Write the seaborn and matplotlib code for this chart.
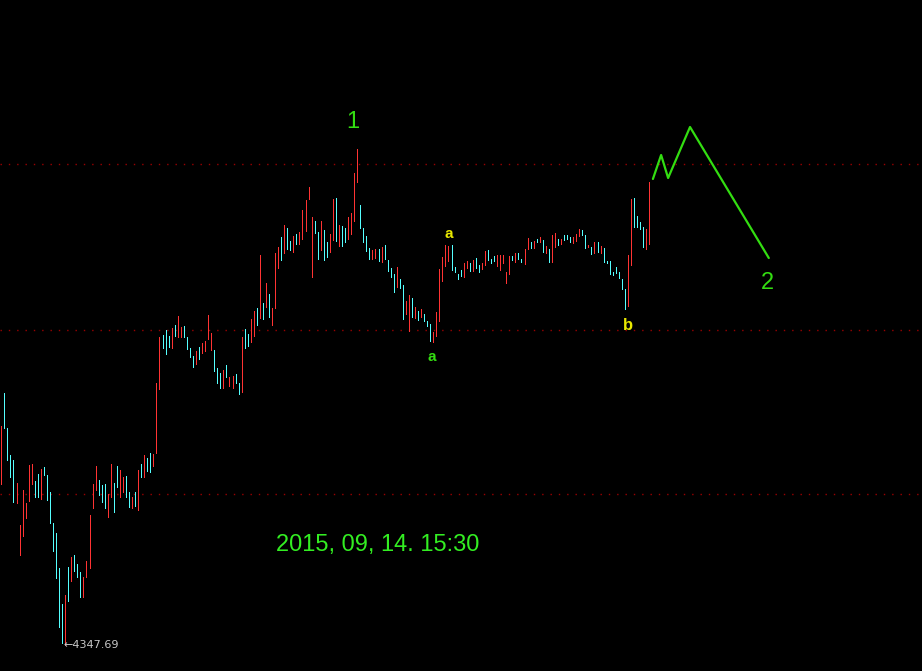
import matplotlib

matplotlib.use("Agg")
import matplotlib.pyplot as plt
import numpy as np
import pandas as pd
import seaborn as sns

# Candle open / close values (one entry per bar)
opens = [
    4831, 5104, 4999, 4918, 4903, 4774, 4618, 4675, 4729, 4780,
    4831, 4840, 4861, 4786, 4882, 4858, 4807, 4714, 4684, 4579,
    4471, 4347.69, 4582, 4540, 4618, 4591, 4567, 4492, 4552, 4579,
    4759, 4813, 4843, 4828, 4831, 4732, 4792, 4834, 4885, 4792,
    4807, 4855, 4807, 4759, 4807, 4753, 4891, 4852, 4909, 4924,
    4885, 4924, 5116, 5278, 5293, 5275, 5239, 5308, 5272, 5272,
    5305, 5272, 5239, 5215, 5191, 5242, 5224, 5230, 5266, 5233,
    5233, 5179, 5164, 5119, 5188, 5125, 5119, 5161, 5134, 5107,
    5296, 5281, 5257, 5275, 5359, 5329, 5374, 5362, 5401, 5308,
    5359, 5479, 5572, 5524, 5599, 5560, 5527, 5581, 5551, 5566,
    5590, 5686, 5452, 5620, 5587, 5533, 5593, 5557, 5527, 5563,
    5689, 5545, 5605, 5599, 5566, 5581, 5620, 5737, 5668, 5599,
    5575, 5539, 5506, 5509, 5536, 5497, 5548, 5503, 5479, 5461,
    5422, 5446, 5428, 5341, 5290, 5389, 5329, 5350, 5332, 5341,
    5320, 5311, 5257, 5275, 5320, 5440, 5485, 5500, 5548, 5482,
    5461, 5473, 5452, 5479, 5494, 5470, 5509, 5488, 5476, 5488,
    5533, 5506, 5515, 5485, 5473, 5494, 5434, 5461, 5515, 5497,
    5524, 5506, 5491, 5536, 5557, 5539, 5566, 5557, 5563, 5524,
    5536, 5497, 5542, 5566, 5551, 5578, 5578, 5572, 5554, 5560,
    5575, 5593, 5578, 5542, 5542, 5524, 5557, 5524, 5539, 5500,
    5500, 5467, 5482, 5467, 5446, 5416, 5365, 5488, 5689, 5635,
    5617, 5602, 5536, 5551,
]
closes = [
    5005, 4999, 4903, 4852, 4777, 4834, 4708, 4813, 4774, 4888,
    4891, 4792, 4792, 4876, 4858, 4783, 4714, 4630, 4549, 4402,
    4354, 4498, 4480, 4612, 4570, 4552, 4492, 4552, 4600, 4738,
    4831, 4885, 4798, 4777, 4759, 4801, 4891, 4747, 4822, 4873,
    4852, 4792, 4762, 4792, 4765, 4873, 4852, 4918, 4870, 4867,
    4921, 5134, 5272, 5239, 5221, 5242, 5299, 5275, 5335, 5302,
    5272, 5236, 5212, 5182, 5230, 5206, 5254, 5260, 5338, 5284,
    5170, 5134, 5119, 5173, 5152, 5152, 5155, 5134, 5101, 5272,
    5239, 5245, 5326, 5350, 5308, 5518, 5326, 5434, 5332, 5359,
    5524, 5542, 5503, 5608, 5536, 5533, 5575, 5551, 5587, 5653,
    5683, 5722, 5632, 5584, 5506, 5620, 5503, 5512, 5581, 5686,
    5560, 5608, 5545, 5557, 5632, 5644, 5764, 5836, 5599, 5557,
    5530, 5506, 5533, 5536, 5500, 5542, 5506, 5470, 5452, 5407,
    5482, 5419, 5326, 5380, 5398, 5332, 5362, 5323, 5356, 5320,
    5305, 5260, 5287, 5347, 5476, 5512, 5548, 5545, 5473, 5467,
    5446, 5455, 5494, 5500, 5470, 5503, 5479, 5467, 5494, 5530,
    5503, 5494, 5500, 5518, 5518, 5518, 5467, 5515, 5503, 5524,
    5506, 5497, 5536, 5569, 5539, 5560, 5557, 5572, 5527, 5545,
    5497, 5578, 5584, 5548, 5566, 5563, 5566, 5557, 5572, 5581,
    5596, 5578, 5539, 5548, 5521, 5557, 5527, 5545, 5497, 5494,
    5461, 5458, 5464, 5449, 5416, 5356, 5518, 5686, 5602, 5602,
    5596, 5542, 5596, 5737,
]

# Hand-drawn wave projection (bar position, price)
wave_bar = [214.2, 216.9, 219.2, 226.4, 252.3]
wave_price = [5746, 5818, 5749, 5902, 5509]

grid_levels = [4801, 5293, 5791]

# Wave labels: (text, bar position, price, colour, size, weight)
labels = [
    ("1", 115.6, 5917, "#33dd11", 17, "normal"),
    ("a", 141.6, 5212, "#33dd11", 11, "bold"),
    ("a", 147.2, 5581, "#e8e800", 11, "bold"),
    ("b", 206.0, 5308, "#e8e800", 12, "bold"),
    ("2", 252.0, 5434, "#33dd11", 17, "normal"),
]
stamp_text = "2015, 09, 14. 15:30"
stamp_pos = (123.8, 4648)

UP_COLOR = "#ff3333"
DOWN_COLOR = "#55ffff"

sns.set_style("dark", {"axes.facecolor": "black", "figure.facecolor": "black"})
plt.rcParams["font.family"] = ["Liberation Sans", "DejaVu Sans"]

df = pd.DataFrame({"open": opens, "close": closes})
df["bar"] = np.arange(len(df))
df["lo"] = df[["open", "close"]].min(axis=1)
df["hi"] = df[["open", "close"]].max(axis=1)
df["up"] = df["close"] >= df["open"]

fig = plt.figure(figsize=(9.22, 6.71), dpi=100)
fig.patch.set_facecolor("black")
ax = fig.add_axes([0, 0, 1, 1])
ax.set_facecolor("black")

# dotted price levels
for lvl in grid_levels:
    ax.axhline(lvl, color="#9a0000", linestyle=(0, (1, 5)), linewidth=1, zorder=1)

# candles drawn as thin bars, red = up, cyan = down
up = df[df["up"]]
down = df[~df["up"]]
ax.vlines(up["bar"], up["lo"], up["hi"], colors=UP_COLOR, linewidth=0.5,
          antialiased=False, zorder=2)
ax.vlines(down["bar"], down["lo"], down["hi"], colors=DOWN_COLOR, linewidth=0.5,
          antialiased=False, zorder=2)

# projected wave
sns.lineplot(x=wave_bar, y=wave_price, sort=False, color="#33dd11",
             linewidth=1.6, ax=ax, zorder=3)

for txt, bx, py, col, size, wt in labels:
    ax.text(bx, py, txt, color=col, fontsize=size, fontweight=wt,
            ha="center", va="center")

ax.text(stamp_pos[0], stamp_pos[1], stamp_text, color="#33ee22", fontsize=17,
        ha="center", va="center")

# lowest price marker
low_bar = int(df["lo"].idxmin())
low_val = df["lo"].min()
ax.text(low_bar - 0.4, low_val, f"\u2190{low_val:.2f}", color="#c8c8c8",
        fontsize=8, family=["DejaVu Sans"], ha="left", va="center")

ax.set_xlim(-0.43, 302.66)
ax.set_ylim(4270, 6283)
ax.axis("off")

fig.savefig("out.png", dpi=100, facecolor="black")
plt.close(fig)
